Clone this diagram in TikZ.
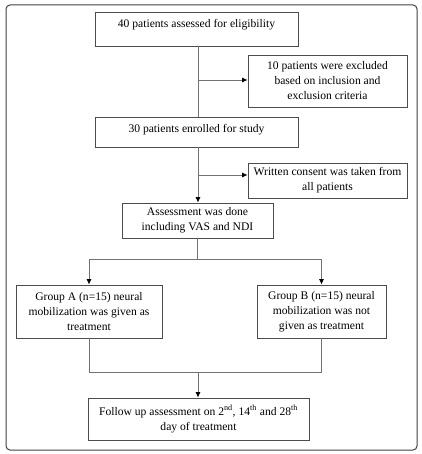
\documentclass[tikz,border=0pt]{standalone}
\usepackage{fontspec}
\setmainfont{Liberation Serif}
\usetikzlibrary{arrows.meta}
\begin{document}
\begin{tikzpicture}[x=1pt,y=-1pt,
  box/.style={draw=black!70, line width=0.8pt, align=center, inner sep=1pt,
    font=\fontsize{11.6}{15}\selectfont},
  conn/.style={draw=black!55, line width=0.8pt},
  arr/.style={conn, -{Latex[length=5.5pt,width=5pt,color=black]}},
  frame/.style={draw=black!75, line width=1pt, rounded corners=4pt}]
\useasboundingbox (0,0) rectangle (421,454);
\draw[frame] (6,5) rectangle (417,450);

\node[box, minimum width=203pt, minimum height=34pt] (b1) at (196.5,29)
  {40 patients assessed for eligibility\\[-4pt] \mbox{}};
\node[box, minimum width=159pt, minimum height=52pt] (b2) at (327.5,81)
  {10 patients were excluded\\ based on inclusion and\\ exclusion criteria};
\node[box, minimum width=203pt, minimum height=30pt] (b3) at (196.5,132)
  {30 patients enrolled for study\\[-7pt] \mbox{}};
\node[box, minimum width=159pt, minimum height=35pt] (b5) at (327.5,180.5)
  {Written consent was taken from\\ all patients};
\node[box, minimum width=151pt, minimum height=35pt] (b4) at (197.5,220.5)
  {Assessment was done\\ including VAS and NDI};
\node[box, minimum width=146pt, minimum height=53pt] (bA) at (89,311.5)
  {Group A (n=15) neural\\ mobilization was given as\\ treatment};
\node[box, minimum width=129pt, minimum height=53pt] (bB) at (321.5,311.5)
  {Group B (n=15) neural\\ mobilization was not\\ given as treatment};
\node[box, minimum width=221pt, minimum height=42pt] (bF) at (198.5,419)
  {Follow up assessment on 2\textsuperscript{nd}, 14\textsuperscript{th} and 28\textsuperscript{th}\\ day of treatment};

\coordinate (t1) at (198,80);
\coordinate (t2) at (198,175);
\coordinate (s1) at (197,259);
\coordinate (s2) at (198,372);

\draw[conn] (b1.south -| t1) -- (b3.north -| t1);
\draw[arr] (t1) -- (t1 -| b2.west);
\draw[arr] (b3.south -| t2) -- (b4.north -| t2);
\draw[arr] (t2) -- (t2 -| b5.west);
\draw[conn] (b4.south -| s1) -- (s1);
\draw[arr] (s1 -| bA.north) -- (bA.north);
\draw[arr] (s1 -| bB.north) -- (bB.north);
\draw[conn] (s1 -| bA.north) -- (s1 -| bB.north);
\draw[conn] (bA.south) -- (s2 -| bA.south) -- (s2 -| bB.south) -- (bB.south);
\draw[arr] (s2) -- (bF.north -| s2);
\end{tikzpicture}
\end{document}
